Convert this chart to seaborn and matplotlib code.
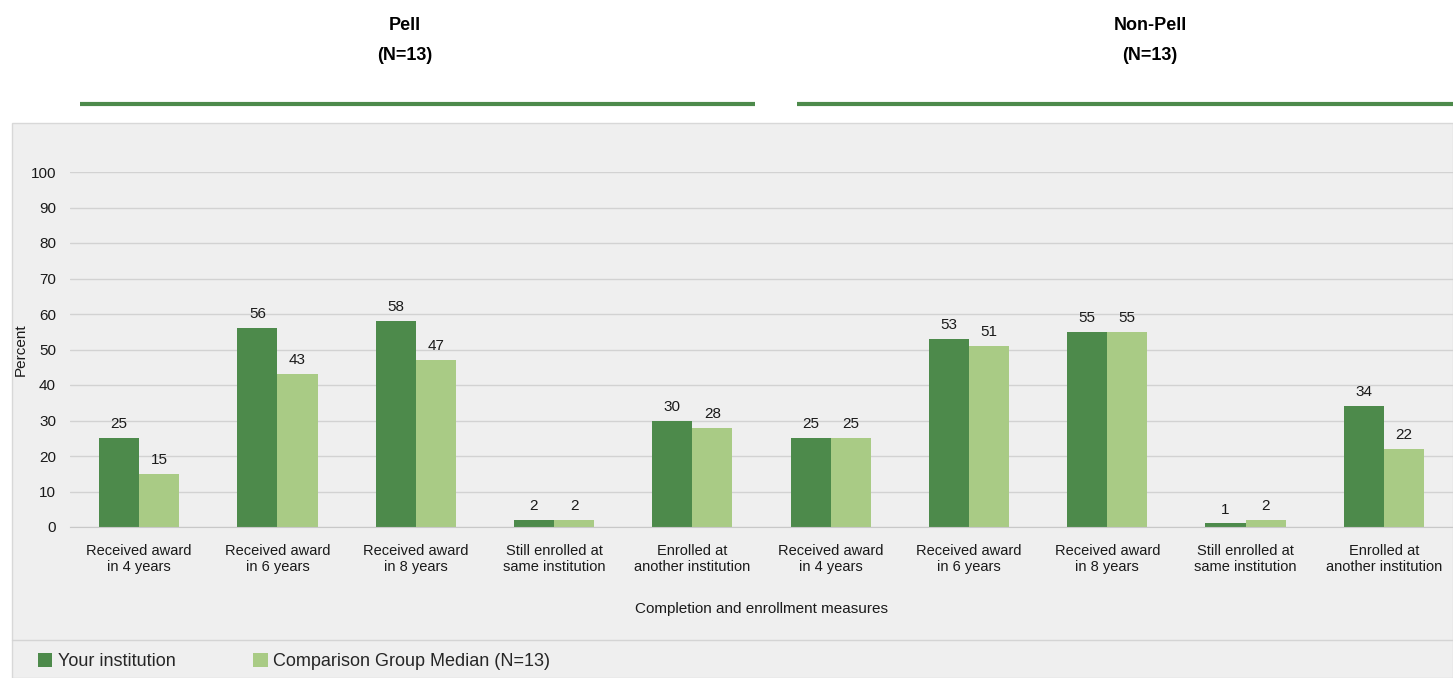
import pandas as pd
import matplotlib.pyplot as plt
import seaborn as sns
from matplotlib.patches import Rectangle
from matplotlib.lines import Line2D

# データ
groups = ['Pell', 'Non-Pell']
measures = ['Received award\nin 4 years', 'Received award\nin 6 years', 'Received award\nin 8 years',
            'Still enrolled at\nsame institution', 'Enrolled at\nanother institution']
series = ['Your institution', 'Comparison Group Median (N=13)']
pell_yours = [25, 56, 58, 2, 30]
pell_median = [15, 43, 47, 2, 28]
nonpell_yours = [25, 53, 55, 1, 34]
nonpell_median = [25, 51, 55, 2, 22]

colors = ['#4d8a4b', '#a9cb85']

rows = []
for g, yours, med in [('Pell', pell_yours, pell_median), ('Non-Pell', nonpell_yours, nonpell_median)]:
    for m, a, b in zip(measures, yours, med):
        rows.append({'cat': g + '|' + m, 'series': series[0], 'value': a})
        rows.append({'cat': g + '|' + m, 'series': series[1], 'value': b})
df = pd.DataFrame(rows)

sns.set_style('white')
plt.rcParams['font.family'] = ['Liberation Sans Narrow', 'Liberation Sans', 'DejaVu Sans']

fig = plt.figure(figsize=(14.53, 6.78), dpi=100)

# グレーの背景パネル
fig.patches.append(Rectangle((12 / 1453, 0), 1 - 12 / 1453, (678 - 123) / 678,
                             transform=fig.transFigure, facecolor='#efefef',
                             edgecolor='#d8d8d8', linewidth=1, zorder=-5))
fig.lines.append(Line2D([12 / 1453, 1], [38 / 678, 38 / 678], transform=fig.transFigure,
                        color='#d4d4d4', linewidth=1, zorder=-4))

ax = fig.add_axes([70 / 1453, 151 / 678, (1453 - 70) / 1453, (527 - 172) / 678])
ax.set_facecolor('none')
ax.set_zorder(2)

sns.barplot(data=df, x='cat', y='value', hue='series', palette=colors, ax=ax,
            width=0.58, saturation=1, linewidth=0, legend=True)

for c in ax.containers:
    ax.bar_label(c, fontsize=11, padding=5, color='#1a1a1a')

ax.set_ylim(0, 100)
ax.set_yticks(range(0, 101, 10))
ax.set_xlim(-0.5, len(groups) * len(measures) - 0.5)
ax.yaxis.grid(True, color='#d2d2d2', linewidth=1)
ax.set_axisbelow(True)
for s in ['top', 'right', 'left']:
    ax.spines[s].set_visible(False)
ax.spines['bottom'].set_color('#c8c8c8')

ax.set_xticks(range(10))
ax.set_xticklabels(measures * 2, fontsize=10.5, color='#1a1a1a', linespacing=1.25)
ax.set_xticks([i + 0.5 for i in range(-1, 10)], minor=True)
ax.tick_params(axis='x', which='major', length=0, pad=12)
ax.tick_params(axis='x', which='minor', length=5, color='#c8c8c8')
ax.tick_params(axis='y', length=0, labelsize=11, labelcolor='#1a1a1a', pad=10)

ax.set_xlabel('Completion and enrollment measures', fontsize=11, color='#1a1a1a', labelpad=20)
ax.set_ylabel('Percent', fontsize=11, color='#1a1a1a', labelpad=2)

handles, labels = ax.get_legend_handles_labels()
ax.get_legend().remove()
fig.legend(handles, labels, loc='lower left', bbox_to_anchor=(0.015, -0.012), ncol=2,
           frameon=False, fontsize=13, handlelength=0.8, handleheight=0.8,
           handletextpad=0.3, columnspacing=4.3)

# 上部の見出し
for x, name in [(405 / 1453, 'Pell'), (1150 / 1453, 'Non-Pell')]:
    fig.text(x, (678 - 25) / 678, name, ha='center', va='center', fontsize=13,
             fontweight='bold', color='black', family=['Liberation Sans', 'DejaVu Sans'])
    fig.text(x, (678 - 55) / 678, '(N=13)', ha='center', va='center', fontsize=13,
             fontweight='bold', color='black', family=['Liberation Sans', 'DejaVu Sans'])

ly = (678 - 103.5) / 678
fig.lines.append(Line2D([80 / 1453, 755 / 1453], [ly, ly], transform=fig.transFigure,
                        color='#4d8a4b', linewidth=3, solid_capstyle='butt'))
fig.lines.append(Line2D([797 / 1453, 1], [ly, ly], transform=fig.transFigure,
                        color='#4d8a4b', linewidth=3, solid_capstyle='butt'))

fig.savefig('out.png', dpi=100)
